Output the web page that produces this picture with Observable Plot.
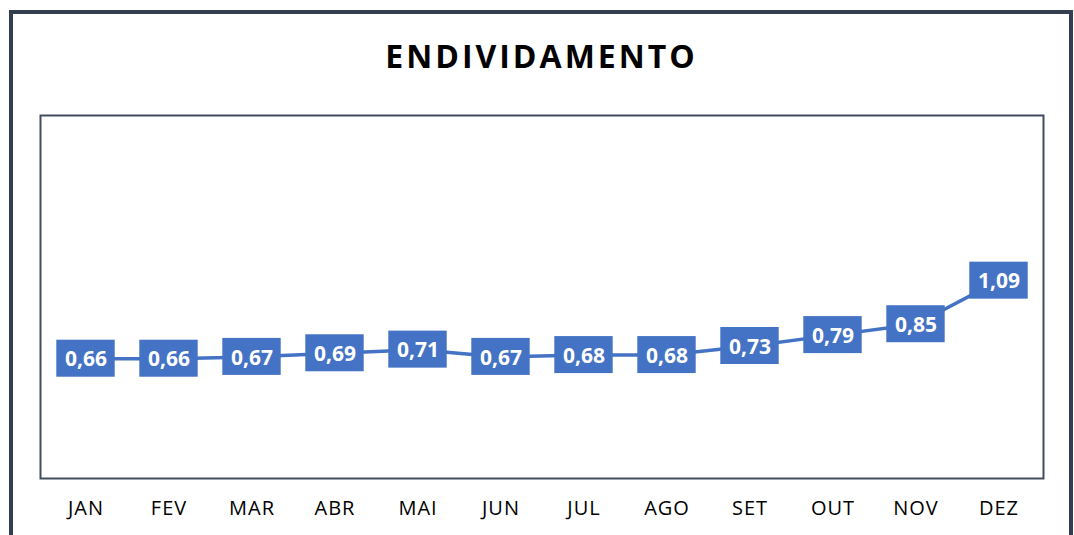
<!DOCTYPE html>
<html>
<head>
<meta charset="utf-8">
<script src="https://cdn.jsdelivr.net/npm/d3@7"></script>
<script src="https://cdn.jsdelivr.net/npm/@observablehq/plot@0.6"></script>
<style>
  html, body { margin: 0; padding: 0; background: #fff; overflow: hidden; }
  #wrap { position: relative; width: 1074px; height: 535px; overflow: hidden; font-family: "Open Sans", sans-serif; }
  #wrap svg { position: absolute; left: 0; top: 0; }
  #wrap svg g[aria-label="x-axis tick label"] text { letter-spacing: 1px; }
  #border { position: absolute; left: 9px; top: 10px; width: 1064px; height: 560px; border: 4px solid #333f50; box-sizing: border-box; }
  #title { position: absolute; left: 40px; width: 1003px; top: 41px; line-height: 30px; text-align: center;
           font-size: 32px; font-weight: 700; letter-spacing: 3px; color: #000; }
</style>
</head>
<body>
<div id="wrap">
  <div id="border"></div>
  <div id="title">ENDIVIDAMENTO</div>
</div>
<script>
const months = ["JAN","FEV","MAR","ABR","MAI","JUN","JUL","AGO","SET","OUT","NOV","DEZ"];
const values = [0.66,0.66,0.67,0.69,0.71,0.67,0.68,0.68,0.73,0.79,0.85,1.09];
const yDomain = [0, 2];

const data = months.map((m, i) => ({month: m, value: values[i], label: values[i].toFixed(2).replace(".", ",")}));
const blue = "#4472c4";

const chart = Plot.plot({
  width: 1074,
  height: 535,
  marginLeft: 40,
  marginRight: 31,
  marginTop: 115,
  marginBottom: 57,
  style: {fontFamily: "Open Sans", background: "transparent", overflow: "visible"},
  x: {domain: months, padding: 0, label: null},
  y: {domain: yDomain, axis: null},
  marks: [
    Plot.frame({stroke: "#424c5e", strokeWidth: 2}),
    Plot.axisX({tickSize: 0, tickPadding: 22, fontSize: 20, label: null, fill: "#000"}),
    Plot.line(data, {x: "month", y: "value", stroke: blue, strokeWidth: 3.5}),
    Plot.barY(data, {x: "month", y1: "value", y2: "value", fill: blue,
      insetLeft: 12.3, insetRight: 12.3, insetTop: -18.5, insetBottom: -18.5}),
    Plot.text(data, {x: "month", y: "value", text: "label", fill: "#fff", fontSize: 21, fontWeight: 700, dy: 1})
  ]
});
document.getElementById("wrap").insertBefore(chart, document.getElementById("border"));
</script>
</body>
</html>
